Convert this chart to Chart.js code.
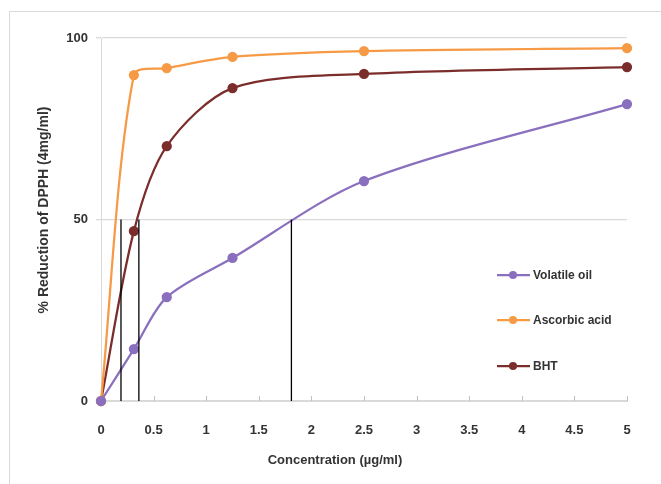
<!DOCTYPE html>
<html>
<head>
<meta charset="utf-8">
<script src="https://cdn.jsdelivr.net/npm/chart.js@4.4.1/dist/chart.umd.min.js"></script>
<style>
  html, body { margin: 0; padding: 0; background: #fff; overflow: hidden; }
  #wrap { position: relative; width: 661px; height: 484px; }
  #frame { position: absolute; left: 9px; top: 11px; width: 700px; height: 520px; border: 1px solid #d9d9d9; }
  canvas { position: absolute; left: 0; top: 0; }
</style>
</head>
<body>
<div id="wrap">
  <div id="frame"></div>
  <canvas id="chart" width="661" height="484"></canvas>
</div>
<script>
  // concentrations (µg/ml)
  const concentrations = [0, 0.3125, 0.625, 1.25, 2.5, 5];
  const volatileOil = [0, 14.3, 28.6, 39.4, 60.6, 81.8];
  const ascorbicAcid = [0, 89.8, 91.7, 94.8, 96.4, 97.2];
  const bht = [0, 46.8, 70.2, 86.2, 90.1, 92.0];
  // IC50 drop lines
  const ic50 = [0.19, 0.36, 1.81];
  const yTicks = [0, 50, 100];

  const seriesNames = ["Volatile oil", "Ascorbic acid", "BHT"];
  const seriesColors = ["#8a6fbf", "#f79a46", "#7b2d2b"];
  const textColor = "#333333";
  const gridColor = "#d9d9d9";
  const fontFamily = "'Liberation Sans', Arial, sans-serif";

  function toPoints(values) {
    return values.map((v, i) => ({ x: concentrations[i], y: v }));
  }

  const curves = [volatileOil, ascorbicAcid, bht].map((vals, i) => ({
    label: seriesNames[i],
    data: toPoints(vals),
    borderColor: seriesColors[i],
    backgroundColor: seriesColors[i],
    borderWidth: 2.25,
    pointRadius: 4,
    pointHoverRadius: 4,
    tension: 0.3,
    fill: false,
    clip: false,
  }));

  const dropLines = ic50.map((c) => ({
    label: "",
    data: [{ x: c, y: 0 }, { x: c, y: 50 }],
    borderColor: "#000000",
    borderWidth: 1.3,
    pointRadius: 0,
    tension: 0,
    fill: false,
  }));

  const extras = {
    id: "extras",
    afterDatasetsDraw(chart) {
      const { ctx, chartArea, scales } = chart;
      const x = scales.x;
      ctx.save();
      // inside tick marks on the x axis
      ctx.strokeStyle = "#bfbfbf";
      ctx.lineWidth = 1;
      for (let v = 0.5; v <= 5.0001; v += 0.5) {
        const px = Math.round(x.getPixelForValue(v)) + 0.5;
        ctx.beginPath();
        ctx.moveTo(px, chartArea.bottom - 5);
        ctx.lineTo(px, chartArea.bottom);
        ctx.stroke();
      }
      // axis titles
      ctx.fillStyle = textColor;
      ctx.textAlign = "center";
      ctx.textBaseline = "middle";
      ctx.font = "bold 13px " + fontFamily;
      ctx.fillText("Concentration (\u00b5g/ml)", 335, 460);
      ctx.font = "bold 14px " + fontFamily;
      ctx.translate(44, 210);
      ctx.rotate(-Math.PI / 2);
      ctx.fillText("% Reduction of DPPH (4mg/ml)", 0, 0);
      ctx.restore();

      // legend
      ctx.save();
      ctx.font = "bold 12px " + fontFamily;
      ctx.textBaseline = "middle";
      ctx.textAlign = "left";
      const lx = chartArea.right - 130;
      const rows = [237, 282, 328];
      seriesNames.forEach((name, i) => {
        const ly = chartArea.top + rows[i];
        ctx.strokeStyle = seriesColors[i];
        ctx.lineWidth = 2.25;
        ctx.beginPath();
        ctx.moveTo(lx, ly);
        ctx.lineTo(lx + 33, ly);
        ctx.stroke();
        ctx.fillStyle = seriesColors[i];
        ctx.beginPath();
        ctx.arc(lx + 16, ly, 4, 0, Math.PI * 2);
        ctx.fill();
        ctx.fillStyle = textColor;
        ctx.fillText(name, lx + 36, ly + 1);
      });
      ctx.restore();
    },
  };

  new Chart(document.getElementById("chart"), {
    type: "line",
    data: { datasets: [...dropLines, ...curves] },
    plugins: [extras],
    options: {
      responsive: false,
      animation: false,
      layout: { padding: { left: 0, right: 34, top: 38, bottom: 0 } },
      plugins: { legend: { display: false }, tooltip: { enabled: false } },
      scales: {
        x: {
          type: "linear",
          min: 0,
          max: 5,
          afterFit: (s) => { s.height = 83; },
          ticks: {
            stepSize: 0.5,
            padding: 22,
            color: textColor,
            font: { family: fontFamily, size: 13, weight: "bold" },
            callback: (v) => String(Math.round(v * 10) / 10),
          },
          grid: { drawOnChartArea: false, drawTicks: false },
          border: { display: true, color: gridColor },
        },
        y: {
          min: 0,
          max: 100,
          afterFit: (s) => { s.width = 101; },
          afterBuildTicks: (s) => { s.ticks = yTicks.map((v) => ({ value: v })); },
          ticks: {
            padding: 8,
            color: textColor,
            font: { family: fontFamily, size: 13, weight: "bold" },
          },
          grid: { color: gridColor, tickLength: 5, lineWidth: 1.3 },
          border: { display: true, color: gridColor },
        },
      },
    },
  });
</script>
</body>
</html>
